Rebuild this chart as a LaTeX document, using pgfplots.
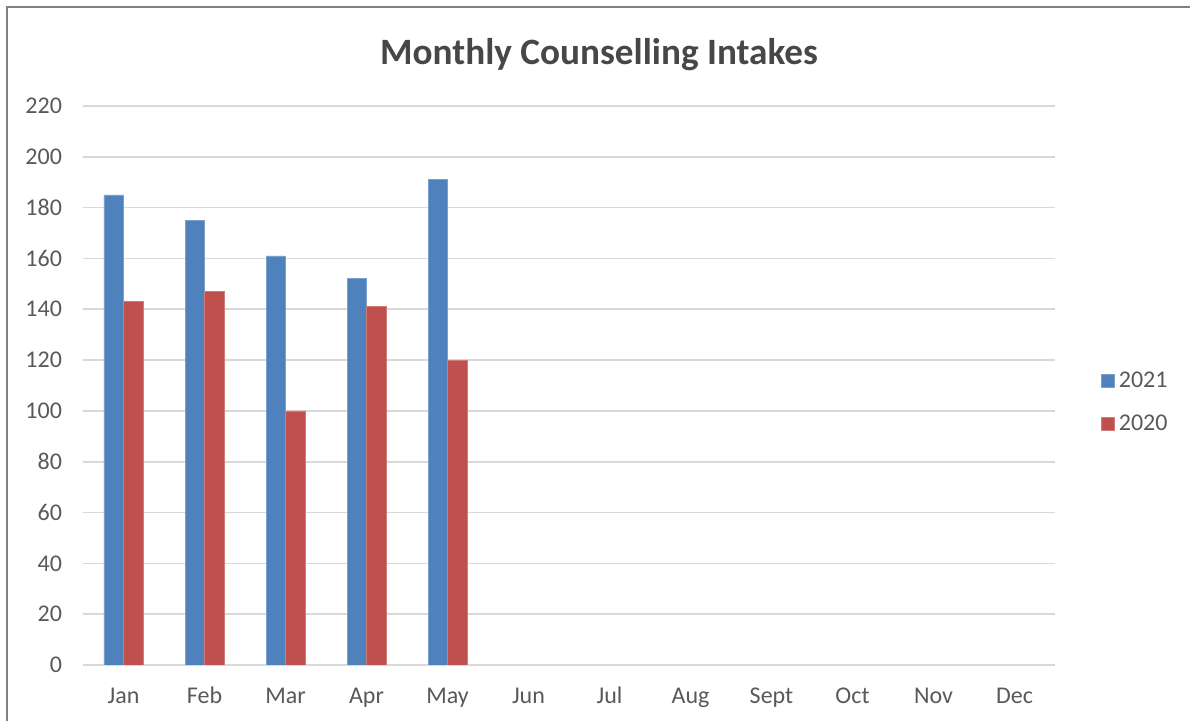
\documentclass[border=0pt]{standalone}
\usepackage{pgfplots}
\pgfplotsset{compat=1.18}
\usepackage{fontspec}
\setmainfont{Carlito}
\definecolor{blueS}{HTML}{4F81BD}
\definecolor{redS}{HTML}{C0504D}
\definecolor{txt}{HTML}{595959}
\definecolor{gridc}{HTML}{D9D9D9}
\definecolor{framec}{HTML}{808080}
\begin{document}
\begin{tikzpicture}
\useasboundingbox (-41.5pt,-28pt) rectangle (553.5pt,332.5pt);
\draw[framec, line width=0.8pt] (-38pt,-28pt) -- (-38pt,329pt) -- (553.5pt,329pt);
\node[text=txt!80!black, font=\fontsize{18.6}{20}\selectfont\bfseries] at (258pt,305pt) {Monthly Counselling Intakes};
\begin{axis}[
    at={(0pt,0pt)}, anchor=south west,
    scale only axis,
    width=486pt, height=279.5pt,
    ybar=0pt,
    bar width=9.75pt,
    xmin=-0.5, xmax=11.5,
    ymin=0, ymax=220,
    ytick={0,20,...,220},
    xtick={0,...,11},
    xticklabels={Jan,Feb,Mar,Apr,May,Jun,Jul,Aug,Sept,Oct,Nov,Dec},
    axis line style={draw=none},
    major tick length=0pt,
    xmajorgrids=false,
    ymajorgrids=true,
    grid style={draw=gridc, line width=0.8pt},
    tick label style={text=txt, font=\fontsize{12}{14}\selectfont},
    yticklabel style={xshift=-7pt},
    xticklabel style={yshift=-8pt, text height=1.6ex, text depth=0.4ex},
    /pgf/number format/assume math mode=true,
    legend style={at={(1.041,0.4696)}, anchor=west, draw=none, fill=none,
        font=\fontsize{12}{14}\selectfont, text=txt, row sep=8pt},
    legend cell align=left,
    legend image code/.code={\fill[#1] (0pt,-3.25pt) rectangle (6.5pt,3.25pt);},
]
\addplot[fill=blueS, draw=blueS!75!white, line width=0.3pt] coordinates {
    (0,185) (1,175) (2,161) (3,152) (4,191)
};
\addplot[fill=redS, draw=redS!75!white, line width=0.3pt] coordinates {
    (0,143) (1,147) (2,100) (3,141) (4,120)
};
\legend{2021,2020}
\end{axis}
\end{tikzpicture}
\end{document}
